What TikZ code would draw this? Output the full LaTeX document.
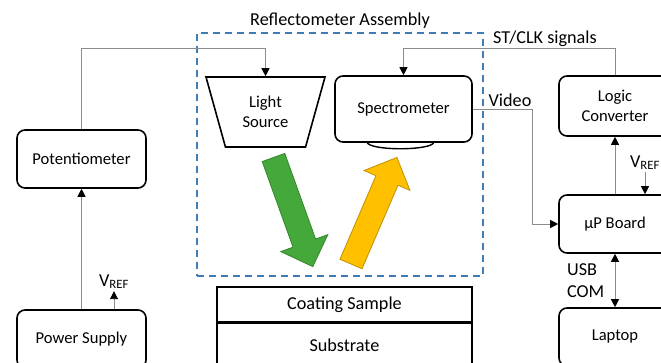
\documentclass[tikz,border=0pt]{standalone}
\usepackage{fontspec}
\setmainfont{Carlito}
\usetikzlibrary{arrows.meta,shapes.geometric,calc}

\definecolor{dashblue}{RGB}{62,124,182}
\definecolor{beamgreen}{RGB}{68,168,58}
\definecolor{beamyellow}{RGB}{255,192,0}

\tikzset{
    block/.style = {
        rectangle,
        rounded corners=8pt,
        draw,
        line width=1.6pt,
        align=center,
        minimum width=129pt,
        minimum height=58pt,
    },
    tag/.style = {font=\fontsize{18.2}{22}\selectfont},
    layer/.style = {
        rectangle,
        draw,
        tag,
        line width=1.4pt,
        minimum width=255pt,
    },
    wire/.style = {->, > = {Triangle[length=8pt,width=8pt,color=black]},
        draw=black!45, line width=0.9pt},
    beam/.pic = {
        \draw[pic actions] (0,-12) -- (91,-12) -- (91,-25) -- (116,0)
            -- (91,25) -- (91,12) -- (0,12) -- cycle;
    },
}

\begin{document}
\begin{tikzpicture}[x=1pt, y=1pt,
    every node/.style={font=\fontsize{16.6}{20.5}\selectfont}]
  \useasboundingbox (0,0) rectangle (661,363);

  % Reflectometer assembly frame
  \node[draw=dashblue, line width=1.4pt, dash pattern=on 7pt off 5pt,
        minimum width=286pt, minimum height=243pt] (assembly) at (340,208.5) {};
  \node[tag, above=0pt] (title) at (assembly.north) {Reflectometer Assembly};

  % Blocks
  \node[block] (pot) at (81.5,204) {Potentiometer};
  \node[block] (psu) at (81.5,24)  {Power Supply};
  \node[trapezium, draw, line width=1.6pt, align=center,
        trapezium stretches=true, shape border rotate=180,
        trapezium left angle=71.8, trapezium right angle=71.8,
        minimum width=119pt, minimum height=70pt] (light) at (265.5,251) {Light\\Source};
  \node[block, minimum width=137pt, minimum height=66pt] (spec) at (403.5,254) {Spectrometer};
  \node[block, minimum width=112pt, minimum height=60pt] (logic) at (615,257) {Logic\\Converter};
  \node[block, minimum width=112pt] (board)  at (615,139) {µP Board};
  \node[block, minimum width=112pt] (laptop) at (615,26)  {Laptop};

  % Sample stack
  \node[layer, minimum height=35pt] (sample) at (344.5,58.5) {Coating Sample};
  \node[layer, minimum height=44pt, anchor=north] (substrate) at (sample.south) {Substrate};

  % Spectrometer lens
  \draw[line width=1.4pt] (367,221) .. controls (368,212) and (433,212) .. (434,221);

  % Light beams
  \pic[fill=beamgreen, draw=beamgreen!80!black, line width=0.8pt, rotate=-70.2]
      at (273.5,205.5) {beam};
  \pic[fill=beamyellow, draw=beamyellow!75!black, line width=0.8pt, rotate=66.7]
      at (351,99) {beam};

  % Connections
  \draw[wire] (pot.north) -- ++(0,81) -| (light.north);
  \draw[wire] (psu) -- (pot);
  \coordinate (vrefA) at ($(psu.north)+(32.5,18)$);
  \draw[wire] (vrefA |- psu.north) -- (vrefA);
  \node[tag, above=-1pt] (vrefAlbl) at (vrefA) {V\textsubscript{REF}};

  \draw[wire] (logic.north) -- ++(0,27) coordinate (stclk) -| (spec.north);
  \node[tag, above=-2pt] (stclklbl) at ($(stclk)+(-70,0)$) {ST/CLK signals};

  \draw[wire] (spec.east) -- ++(60,0) node[tag, above=-1pt, pos=0.62] (videolbl) {Video} |- (board.west);
  \draw[wire] (board) -- (logic);
  \coordinate (vrefB) at ($(board.north)+(30,22)$);
  \draw[wire] (vrefB) -- (vrefB |- board.north);
  \node[tag, above=-1pt] (vrefBlbl) at (vrefB) {V\textsubscript{REF}};

  \draw[wire, <->] (board) -- (laptop) node[tag, midway, left=7pt, align=left] (usblbl) {USB\\COM};

\end{tikzpicture}
\end{document}
